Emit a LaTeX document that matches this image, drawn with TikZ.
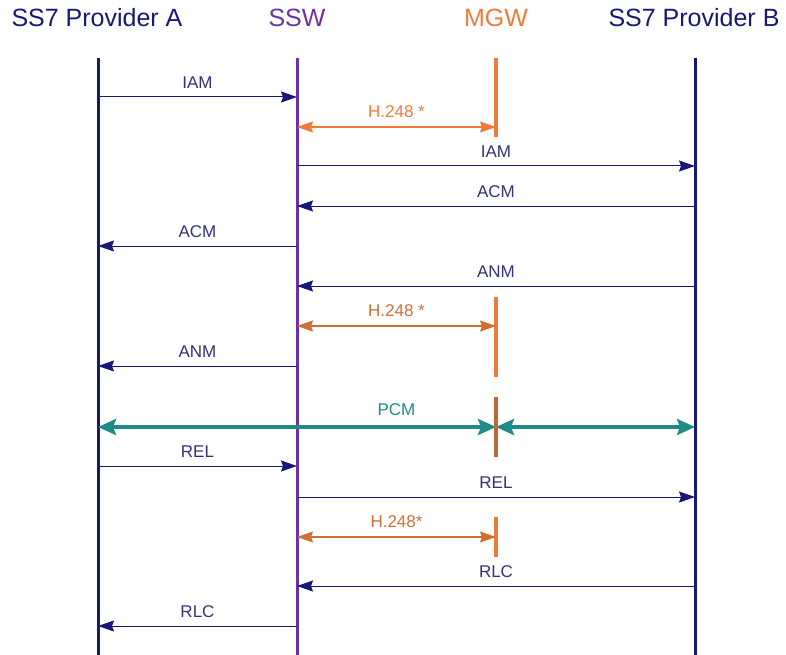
\documentclass[tikz,border=0pt]{standalone}
\usepackage{fontspec}
\setmainfont{Liberation Sans}
\usetikzlibrary{positioning, arrows.meta}
\definecolor{sspnavy}{RGB}{24,24,118}
\definecolor{sswpurple}{RGB}{112,48,160}
\definecolor{mgworange}{RGB}{240,122,58}
\definecolor{mgwdark}{RGB}{208,110,52}
\definecolor{pcmteal}{RGB}{30,140,132}
\definecolor{pcmbrown}{RGB}{190,104,56}

\begin{document}
\begin{tikzpicture}[
  x=1pt, y=-1pt,
  actor/.style={font=\fontsize{25}{28}\selectfont, inner sep=0pt},
  life/.style={line width=3pt},
  lbl/.style={font=\fontsize{17}{20}\selectfont, above=5pt},
  msg/.style={-{Stealth[length=16pt, width=11pt, inset=2pt]}, line width=1pt, sspnavy},
  h248/.style={{Stealth[length=16pt, width=11pt, inset=2pt]}-{Stealth[length=16pt, width=11pt, inset=2pt]}, line width=1.4pt},
  pcm/.style={{Stealth[length=18pt, width=16pt, inset=3pt]}-{Stealth[length=18pt, width=16pt, inset=3pt]}, line width=3.5pt, pcmteal}
]
  \useasboundingbox (0,0) rectangle (786,655);

  % Header names
  \node[actor, text=sspnavy] (hpa) at (97,18) {SS7 Provider A};
  \node[actor, text=sswpurple] (hssw) at (297,18) {SSW};
  \node[actor, text=mgworange] (hmgw) at (496,18) {MGW};
  \node[actor, text=sspnavy] (hpb) at (694,18) {SS7 Provider B};

  % Lifeline tops
  \coordinate (pa) at (98,58);
  \coordinate (ssw) at (297,58);
  \coordinate (mgw) at (496,58);
  \coordinate (pb) at (695,58);

  % Lifelines
  \draw[life, sspnavy] (pa) -- (pa |- 0,655);
  \draw[life, sswpurple] (ssw) -- (ssw |- 0,655);
  \draw[life, sspnavy] (pb) -- (pb |- 0,655);

  % MGW active segments
  \draw[line width=4pt, mgworange] (mgw) -- (mgw |- 0,137);
  \draw[line width=4pt, mgworange] (mgw |- 0,297) -- (mgw |- 0,377);
  \draw[line width=4pt, mgworange] (mgw |- 0,517) -- (mgw |- 0,557);

  % ISUP messages
  \foreach \y/\s/\t/\m in {97/pa/ssw/IAM, 166/ssw/pb/IAM, 206/pb/ssw/ACM,
      246/ssw/pa/ACM, 286/pb/ssw/ANM, 366/ssw/pa/ANM, 466/pa/ssw/REL,
      497/ssw/pb/REL, 586/pb/ssw/RLC, 626/ssw/pa/RLC}
    \draw[msg] (\s |- 0,\y) -- node[lbl, text=sspnavy!75!gray] {\m} (\t |- 0,\y);

  % H.248 exchanges
  \draw[h248, mgworange] (ssw |- 0,127) -- node[lbl] {H.248 *} (mgw |- 0,127);
  \draw[h248, mgwdark] (ssw |- 0,326) -- node[lbl] {H.248 *} (mgw |- 0,326);
  \draw[h248, mgwdark] (ssw |- 0,537) -- node[lbl] {H.248*} (mgw |- 0,537);

  % PCM bearer
  \draw[pcm] (pa |- 0,427) -- node[lbl, pos=0.75, above=6pt] {PCM} (mgw |- 0,427);
  \draw[pcm] (mgw |- 0,427) -- (pb |- 0,427);
  \draw[line width=4pt, pcmbrown] (mgw |- 0,397) -- (mgw |- 0,457);
\end{tikzpicture}
\end{document}
